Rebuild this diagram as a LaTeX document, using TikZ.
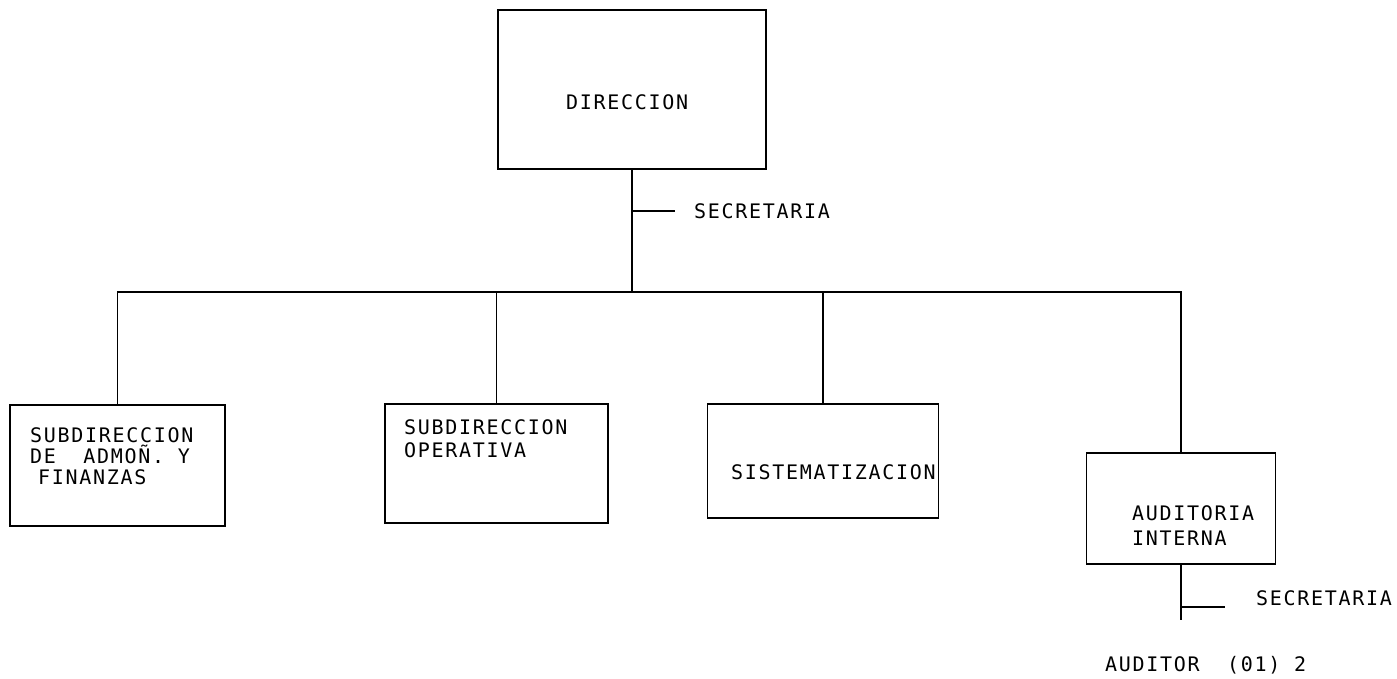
\documentclass[tikz,border=0pt]{standalone}
\usepackage{fontspec}
\newfontfamily\typefont[LetterSpace=8.5]{DejaVu Sans Mono}
\begin{document}
\begin{tikzpicture}[x=1pt,y=-1pt]
\tikzset{
  box/.style={draw, line width=1.6pt, inner sep=0pt},
  lab/.style={font=\typefont\fontsize{20}{22}\selectfont, anchor=west, inner sep=0pt, align=left},
  conn/.style={line width=1.6pt}
}
\useasboundingbox (0,0) rectangle (1397,678);
% boxes
\node[box, minimum width=268pt, minimum height=159pt] (dir) at (632,89.5) {};
\node[box, minimum width=215pt, minimum height=121pt] (b1) at (117.5,465.5) {};
\node[box, minimum width=223pt, minimum height=119pt] (b2) at (496.5,463.5) {};
\node[box, minimum width=231pt, minimum height=114pt] (b3) at (823,461) {};
\node[box, minimum width=189pt, minimum height=111pt] (b4) at (1181,508.5) {};
% texts
\node[lab] (tdir) at (566,102) {DIRECCION};
\node[lab, font=\typefont\fontsize{20}{21}\selectfont] (t1) at (30,456) {SUBDIRECCION\\DE~~ADMOÑ.~Y\\\hspace{8pt}FINANZAS};
\node[lab, font=\typefont\fontsize{20}{23}\selectfont] (t2) at (404,438.5) {SUBDIRECCION\\OPERATIVA};
\node[lab] (t3) at (731,472) {SISTEMATIZACION};
\node[lab, font=\typefont\fontsize{20}{25}\selectfont] (t4) at (1132,525.5) {AUDITORIA\\INTERNA};
\node[lab] (sec1) at (694,211) {SECRETARIA};
\node[lab] (sec2) at (1256,598) {SECRETARIA};
\node[lab] (aud) at (1105,665) {AUDITOR~~(01)~2};
% connectors
\coordinate (bus) at (0,292);
\coordinate (s1) at (dir.south |- 0,211);
\coordinate (s1e) at (675,211);
\coordinate (s2) at (b4.south |- 0,607);
\coordinate (s2e) at (1225,607);
\coordinate (aend) at (b4.south |- 0,620);
\draw[conn] (dir.south) -- (dir.south |- bus);
\draw[conn] (s1) -- (s1e);
\draw[conn] (b1.north) -- (b1.north |- bus) -- (b4.north |- bus) -- (b4.north);
\draw[conn] (b2.north |- bus) -- (b2.north);
\draw[conn] (b3.north |- bus) -- (b3.north);
\draw[conn] (b4.south) -- (aend);
\draw[conn] (s2) -- (s2e);
\end{tikzpicture}
\end{document}
